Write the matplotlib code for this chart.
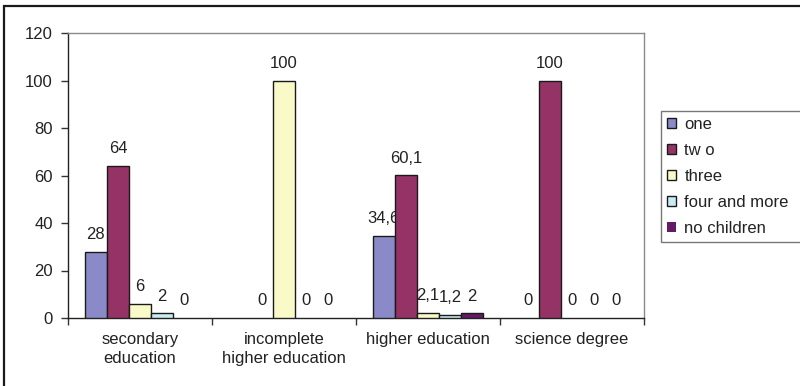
import numpy as np
import matplotlib
matplotlib.use("Agg")
import matplotlib.pyplot as plt
from matplotlib.patches import Rectangle

plt.rcParams['font.family'] = ['Liberation Sans', 'DejaVu Sans']

categories = ["secondary\neducation", "incomplete\nhigher education",
              "higher education", "science degree"]
series_names = ["one", "tw o", "three", "four and more", "no children"]
one = [28, np.nan, 34.6, 0]
two = [64, 0, 60.1, 100]
three = [6, 100, 2.1, 0]
four_more = [2, 0, 1.2, 0]
no_children = [0, 0, 2, 0]
series_values = [one, two, three, four_more, no_children]
colors = ['#8A8AC8', '#953366', '#FAFAC8', '#C8ECF2', '#641A66']
yticks = [0, 20, 40, 60, 80, 100, 120]

fs = 12
text_color = '#222222'
fig = plt.figure(figsize=(8.0, 3.86), dpi=100)
ax = fig.add_axes([68/800, 1-318/386, (644-68)/800, (318-33)/386])

x = np.arange(len(categories))
bw = 0.153
for i, (name, vals, c) in enumerate(zip(series_names, series_values, colors)):
    pos = x + (i - 2) * bw
    vals = np.asarray(vals, dtype=float)
    edges = ['#1a1a1a' if (not np.isnan(v) and v > 0) else 'none' for v in vals]
    ax.bar(pos, vals, width=bw, color=c, edgecolor=edges, linewidth=1.0,
           label=name, zorder=3)
    for px, v in zip(pos, vals):
        if np.isnan(v):
            continue
        txt = f"{v:g}".replace('.', ',')
        ax.annotate(txt, (px, v), xytext=(0, 7), textcoords='offset points',
                    ha='center', va='bottom', fontsize=fs, color=text_color)

ax.set_xlim(-0.5, len(categories) - 0.5)
ax.set_ylim(0, 120)
ax.set_yticks(yticks)
ax.set_yticklabels([str(t) for t in yticks], fontsize=fs, color=text_color)
ax.tick_params(axis='y', length=5, width=1, color='#333333', pad=6)

ax.set_xticks(x)
ax.set_xticklabels(categories, fontsize=fs, color=text_color, linespacing=1.35)
ax.tick_params(axis='x', which='major', length=0, pad=10)
ax.set_xticks(np.arange(-0.5, len(categories), 1.0), minor=True)
ax.tick_params(axis='x', which='minor', length=5, width=1, color='#333333')

for s in ['left', 'bottom']:
    ax.spines[s].set_color('#222222')
    ax.spines[s].set_linewidth(1.0)
for s in ['top', 'right']:
    ax.spines[s].set_color('#8a8a8a')
    ax.spines[s].set_linewidth(1.0)

leg = fig.legend(loc='upper left',
                 bbox_to_anchor=(661/800, 1-238/386, 0.2, 127/386),
                 mode='expand',
                 fontsize=fs, frameon=True, fancybox=False, shadow=False,
                 handlelength=0.55, handleheight=0.55, handletextpad=0.5,
                 labelspacing=0.66, borderpad=0.35, borderaxespad=0)
leg.get_frame().set_edgecolor('#555555')
leg.get_frame().set_linewidth(1.0)
for t in leg.get_texts():
    t.set_color(text_color)

# chart border
fig.patches.append(Rectangle((4/800, -0.1), 1.2, 1.1 - 6/386,
                             transform=fig.transFigure, fill=False,
                             edgecolor='#1a1a1a', linewidth=1.6))

fig.savefig("out.png", dpi=100)
